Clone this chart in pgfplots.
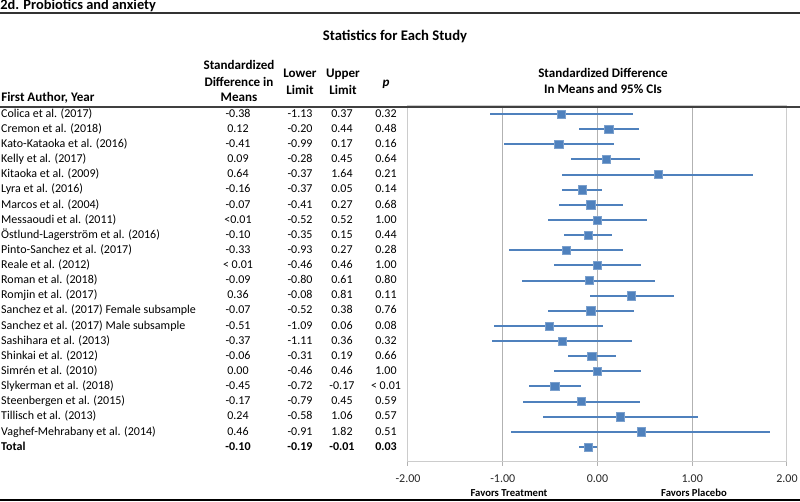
\documentclass[border=0pt]{standalone}
\usepackage{fontspec}
\setmainfont{Carlito}
\usepackage{pgfplots}
\usepackage{pgfplotstable}
\pgfplotsset{compat=1.18}

\definecolor{ciblue}{HTML}{4F81BD}
\newcommand{\tabfont}{\fontsize{9}{11}\selectfont}
\newcommand{\headfont}{\fontsize{9.8}{12}\selectfont\bfseries}

% row, study, estimate (plotted), CI limits, printed estimate, p
\pgfplotstableread[col sep=comma]{
row,name,est,lo,hi,estt,pt
1,Colica et al. (2017),-0.38,-1.13,0.37,-0.38,0.32
2,Cremon et al. (2018),0.12,-0.20,0.44,0.12,0.48
3,Kato-Kataoka et al. (2016),-0.41,-0.99,0.17,-0.41,0.16
4,Kelly et al. (2017),0.09,-0.28,0.45,0.09,0.64
5,Kitaoka et al. (2009),0.64,-0.37,1.64,0.64,0.21
6,Lyra et al. (2016),-0.16,-0.37,0.05,-0.16,0.14
7,Marcos et al. (2004),-0.07,-0.41,0.27,-0.07,0.68
8,Messaoudi et al. (2011),0.00,-0.52,0.52,<0.01,1.00
9,Östlund-Lagerström et al. (2016),-0.10,-0.35,0.15,-0.10,0.44
10,Pinto-Sanchez et al. (2017),-0.33,-0.93,0.27,-0.33,0.28
11,Reale et al. (2012),0.00,-0.46,0.46,< 0.01,1.00
12,Roman et al. (2018),-0.09,-0.80,0.61,-0.09,0.80
13,Romjin et al. (2017),0.36,-0.08,0.81,0.36,0.11
14,Sanchez et al. (2017) Female subsample,-0.07,-0.52,0.38,-0.07,0.76
15,Sanchez et al. (2017) Male subsample,-0.51,-1.09,0.06,-0.51,0.08
16,Sashihara et al. (2013),-0.37,-1.11,0.36,-0.37,0.32
17,Shinkai et al. (2012),-0.06,-0.31,0.19,-0.06,0.66
18,Simrén et al. (2010),0.00,-0.46,0.46,0.00,1.00
19,Slykerman et al. (2018),-0.45,-0.72,-0.17,-0.45,< 0.01
20,Steenbergen et al. (2015),-0.17,-0.79,0.45,-0.17,0.59
21,Tillisch et al. (2013),0.24,-0.58,1.06,0.24,0.57
22,Vaghef-Mehrabany et al. (2014),0.46,-0.91,1.82,0.46,0.51
}\studies

\pgfplotstableread[col sep=comma]{
row,name,est,lo,hi,estt,pt
23,Total,-0.10,-0.19,-0.01,-0.10,0.03
}\total

\pgfplotsset{
  txt/.style={only marks, mark=none, nodes near coords,
    point meta=explicit symbolic,
    every node near coord/.style={anchor=#1, inner sep=0pt, text=black, font=\tabfont}},
  txtb/.style={txt=#1, every node near coord/.append style={font=\tabfont\bfseries}},
  ci/.style={only marks, mark=square*, mark size=3.1pt,
    mark options={fill=ciblue, draw=ciblue!75!white, line width=0.4pt},
    error bars/.cd, x dir=both, x explicit, error mark=none,
    error bar style={line width=1.5pt, ciblue}},
}

\begin{document}
\begin{tikzpicture}
\begin{axis}[
    scale only axis,
    width=284.25pt, height=267pt,
    xmin=-2, xmax=2,
    ymin=-23.99, ymax=-0.47,
    clip=false,
    xtick={-2,-1,0,1,2},
    ytick=\empty,
    xtick pos=left,
    xticklabel pos=lower,
    tick align=outside,
    major tick length=3pt,
    tick style={gray!60, line width=0.75pt},
    xmajorgrids,
    grid style={gray!60, line width=0.75pt},
    axis line style={gray!40, line width=0.75pt},
    xticklabel style={font=\tabfont, text=black!85, anchor=north, inner sep=0pt, yshift=-6pt},
    /pgf/number format/.cd, fixed, fixed zerofill, precision=2, assume math mode=true,
]
% confidence intervals and point estimates
\addplot[ci] table[x=est, y expr=-\thisrow{row},
    x error plus expr=\thisrow{hi}-\thisrow{est},
    x error minus expr=\thisrow{est}-\thisrow{lo}] {\studies};
\addplot[ci] table[x=est, y expr=-\thisrow{row},
    x error plus expr=\thisrow{hi}-\thisrow{est},
    x error minus expr=\thisrow{est}-\thisrow{lo}] {\total};

% table columns
\addplot[txt=mid west] table[x expr=-6.296, y expr=-\thisrow{row}, meta=name] {\studies};
\addplot[txt=mid] table[x expr=-3.794, y expr=-\thisrow{row}, meta=estt] {\studies};
\addplot[txt=mid] table[x expr=-3.140, y expr=-\thisrow{row}, meta=lo] {\studies};
\addplot[txt=mid] table[x expr=-2.697, y expr=-\thisrow{row}, meta=hi] {\studies};
\addplot[txt=mid] table[x expr=-2.232, y expr=-\thisrow{row}, meta=pt] {\studies};

\addplot[txtb=mid west] table[x expr=-6.296, y expr=-\thisrow{row}, meta=name] {\total};
\addplot[txtb=mid] table[x expr=-3.794, y expr=-\thisrow{row}, meta=estt] {\total};
\addplot[txtb=mid] table[x expr=-3.140, y expr=-\thisrow{row}, meta=lo] {\total};
\addplot[txtb=mid] table[x expr=-2.697, y expr=-\thisrow{row}, meta=hi] {\total};
\addplot[txtb=mid] table[x expr=-2.232, y expr=-\thisrow{row}, meta=pt] {\total};

\coordinate (O) at ([shift={(-306pt,79.5pt)}]axis cs:-2,-0.47);
\end{axis}

% headers and rules, in pixel units of the 800x502 picture
\begin{scope}[shift={(O)}, x=0.75pt, y=-0.75pt]
  \node[anchor=mid west, inner sep=0pt, font=\fontsize{10.8}{13}\selectfont\bfseries] at (0,6) {2d. Probiotics and anxiety};
  \draw[black!80, line width=1.5pt] (0,13) -- (800,13);
  \node[anchor=mid, inner sep=0pt, font=\fontsize{11}{13}\selectfont\bfseries] at (395,37) {Statistics for Each Study};

  \node[anchor=mid, inner sep=0pt, font=\headfont] at (239,66) {Standardized};
  \node[anchor=mid, inner sep=0pt, font=\headfont] at (239,83) {Difference in};
  \node[anchor=mid, inner sep=0pt, font=\headfont] at (239,98) {Means};
  \node[anchor=mid, inner sep=0pt, font=\headfont] at (300,74) {Lower};
  \node[anchor=mid, inner sep=0pt, font=\headfont] at (300,91) {Limit};
  \node[anchor=mid, inner sep=0pt, font=\headfont] at (343,74) {Upper};
  \node[anchor=mid, inner sep=0pt, font=\headfont] at (343,91) {Limit};
  \node[anchor=mid, inner sep=0pt, font=\headfont\itshape] at (386,83) {p};
  \node[anchor=mid west, inner sep=0pt, font=\headfont] at (1,98) {First Author, Year};
  \node[anchor=mid, inner sep=0pt, font=\headfont] at (603,74) {Standardized Difference};
  \node[anchor=mid, inner sep=0pt, font=\headfont] at (603,90) {In Means and 95\% CIs};

  \draw[black!75, line width=1.5pt] (0,107) -- (800,107);

  \node[anchor=mid, inner sep=0pt, font=\fontsize{8}{10}\selectfont\bfseries] at (509,493) {Favors Treatment};
  \node[anchor=mid, inner sep=0pt, font=\fontsize{8}{10}\selectfont\bfseries] at (694,493) {Favors Placebo};
  \draw[black, line width=1.5pt] (0,500.5) -- (800,500.5);

  \pgfresetboundingbox
  \path[use as bounding box] (0,0) rectangle (800,502);
\end{scope}
\end{tikzpicture}
\end{document}
